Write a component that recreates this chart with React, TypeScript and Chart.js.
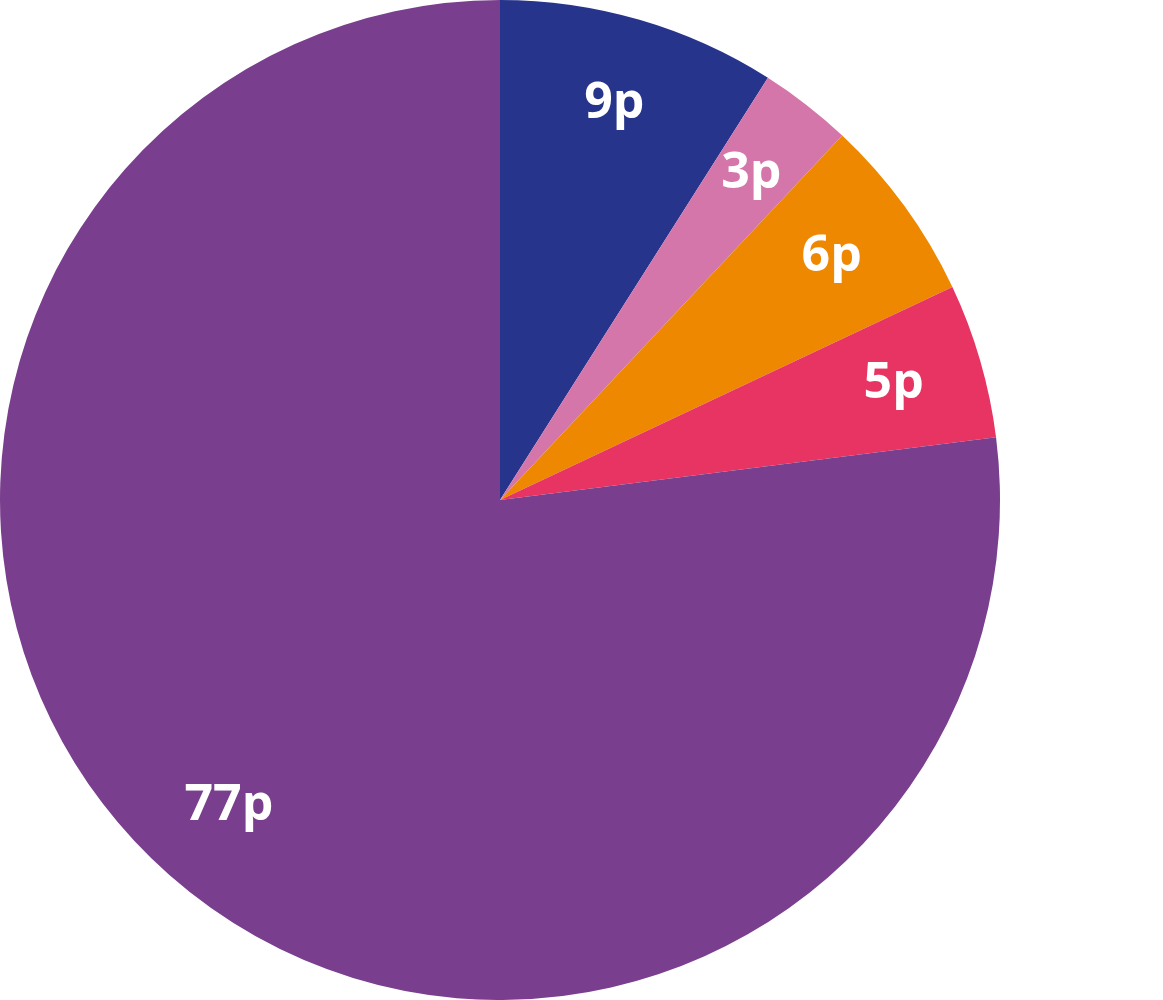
import React, { useEffect, useRef } from "react";
import { Chart, registerables } from "chart.js";

Chart.register(...registerables);

const categories = ["A", "B", "C", "D", "E"];
const values = [9, 3, 6, 5, 77];
const valueLabels = ["9p", "3p", "6p", "5p", "77p"];
const colors = ["#27348B", "#D576AA", "#EE8800", "#E73462", "#7A3E8E"];

const labelPlugin = {
  id: "sliceLabels",
  afterDatasetsDraw(chart: any) {
    const ctx = chart.ctx;
    const meta = chart.getDatasetMeta(0);
    ctx.save();
    ctx.fillStyle = "#FFFFFF";
    ctx.font = "bold 50px 'Open Sans'";
    ctx.textAlign = "center";
    ctx.textBaseline = "alphabetic";
    meta.data.forEach((arc: any, i: number) => {
      const p = arc.getProps(["x", "y", "startAngle", "endAngle", "outerRadius"], true);
      const mid = (p.startAngle + p.endAngle) / 2;
      const r = p.outerRadius * 0.82;
      ctx.fillText(valueLabels[i], p.x + Math.cos(mid) * r, p.y + Math.sin(mid) * r + 12);
    });
    ctx.restore();
  },
};

export default function App() {
  const ref = useRef<HTMLCanvasElement>(null);
  useEffect(() => {
    document.body.style.margin = "0";
    const chart = new Chart(ref.current!, {
      type: "pie",
      data: {
        labels: categories,
        datasets: [
          {
            data: values,
            backgroundColor: colors,
            borderWidth: 0,
          },
        ],
      },
      options: {
        animation: false,
        responsive: false,
        layout: { padding: { left: 0, right: 163, top: 0, bottom: 0 } },
        plugins: {
          legend: { display: false },
          tooltip: { enabled: false },
        },
      },
      plugins: [labelPlugin],
    });
    return () => chart.destroy();
  }, []);
  return (
    <div style={{ width: 1163, height: 1000, background: "#fff" }}>
      <canvas ref={ref} width={1163} height={1000} style={{ display: "block" }} />
    </div>
  );
}
